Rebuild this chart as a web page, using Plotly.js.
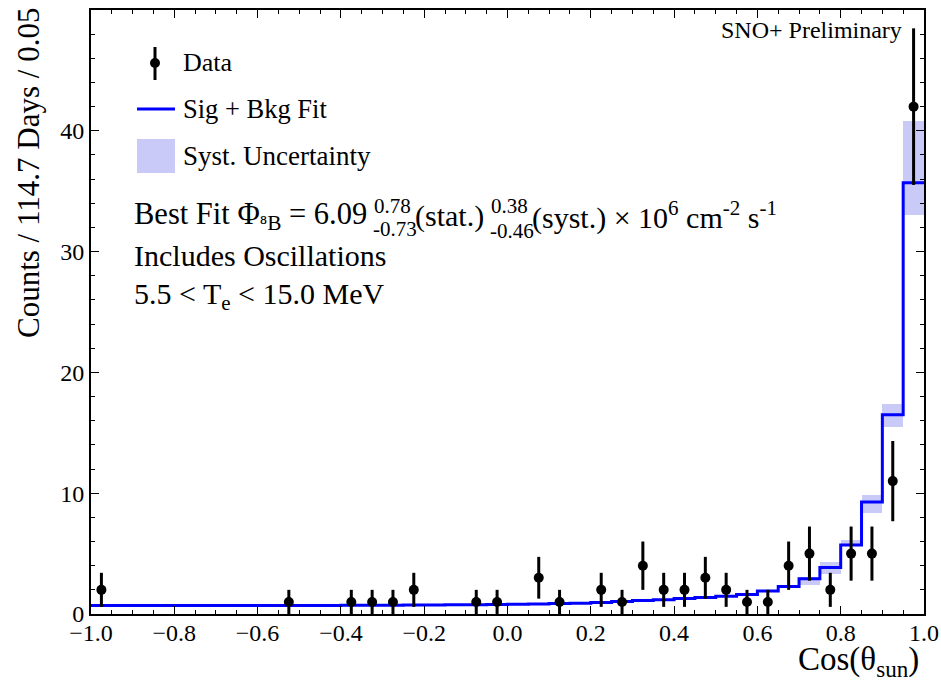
<!DOCTYPE html>
<html>
<head>
<meta charset="utf-8">
<script src="https://cdn.plot.ly/plotly-3.0.1.min.js"></script>
<style>html,body{margin:0;padding:0;background:#fff;}#chart{width:941px;height:683px;}</style>
</head>
<body>
<div id="chart"></div>
<script>
// ---- data ----
// data points (non-empty bins only): bin centres, counts, errors
const dataX = [-0.975, -0.525, -0.375, -0.325, -0.275, -0.225, -0.075, -0.025, 0.075, 0.125,
               0.225, 0.275, 0.325, 0.375, 0.425, 0.475, 0.525, 0.575, 0.625, 0.675,
               0.725, 0.775, 0.825, 0.875, 0.925, 0.975];
const dataY = [2, 1, 1, 1, 1, 2, 1, 1, 3, 1,
               2, 1, 4, 2, 2, 3, 2, 1, 1, 4,
               5, 2, 5, 5, 11, 42];
const dataErr = [1.41, 1, 1, 1, 1, 1.41, 1, 1, 1.73, 1,
                 1.41, 1, 2, 1.41, 1.41, 1.73, 1.41, 1, 1, 2,
                 2.24, 1.41, 2.24, 2.24, 3.32, 6.48];

// fit histogram: bin lower edges, fitted value, syst band lo/hi
const binLo = [-1.00,-0.95,-0.90,-0.85,-0.80,-0.75,-0.70,-0.65,-0.60,-0.55,
               -0.50,-0.45,-0.40,-0.35,-0.30,-0.25,-0.20,-0.15,-0.10,-0.05,
                0.00, 0.05, 0.10, 0.15, 0.20, 0.25, 0.30, 0.35, 0.40, 0.45,
                0.50, 0.55, 0.60, 0.65, 0.70, 0.75, 0.80, 0.85, 0.90, 0.95];
const fitVal = [0.70,0.70,0.70,0.70,0.70,0.70,0.70,0.70,0.70,0.70,
                0.71,0.71,0.72,0.72,0.73,0.74,0.75,0.76,0.77,0.78,
                0.80,0.83,0.87,0.90,0.95,1.03,1.12,1.18,1.28,1.36,
                1.47,1.62,1.90,2.27,2.92,3.85,5.72,9.28,16.5,35.7];
const sysLo = [0.67,0.67,0.67,0.67,0.67,0.67,0.67,0.67,0.67,0.67,
               0.68,0.68,0.69,0.69,0.70,0.71,0.72,0.73,0.74,0.75,
               0.77,0.80,0.84,0.87,0.92,0.99,1.08,1.14,1.23,1.30,
               1.42,1.56,1.84,2.15,2.42,3.33,5.60,8.35,15.5,33.06];
const sysHi = [0.73,0.73,0.73,0.73,0.73,0.73,0.73,0.73,0.73,0.73,
               0.74,0.74,0.75,0.75,0.76,0.77,0.78,0.79,0.80,0.81,
               0.83,0.86,0.90,0.93,0.98,1.07,1.16,1.22,1.33,1.42,
               1.53,1.68,2.00,2.38,3.06,4.30,6.14,9.86,17.38,40.85];
const binWidth = 0.05;
const xMax = 1.0;

// ---- derived trace inputs ----
const binCentre = binLo.map(v => v + binWidth / 2);
const bandSize = sysHi.map((h, i) => h - sysLo[i]);
const stepX = binLo.concat([xMax]);
const stepY = fitVal.concat([fitVal[fitVal.length - 1]]);

const FONT = 'Liberation Serif, Times New Roman, serif';
const BLUE = '#0000ff';
const BAND = 'rgb(202,202,248)';

const traces = [
  {type: 'bar', x: binCentre, y: bandSize, base: sysLo, width: binWidth,
   marker: {color: BAND, line: {width: 0}}, hoverinfo: 'skip', showlegend: false},
  {type: 'scatter', mode: 'lines', x: stepX, y: stepY,
   line: {color: BLUE, width: 3, shape: 'hv'}, showlegend: false, cliponaxis: true},
  {type: 'scatter', mode: 'markers', x: dataX, y: dataY,
   marker: {color: 'black', size: 10},
   error_y: {type: 'data', array: dataErr, visible: true, color: 'black', thickness: 3, width: 0},
   showlegend: false}
];

// pixel -> paper helpers for the annotation layout
const L = 91, R = 924, T = 10, B = 614;
const px = x => (x - L) / (R - L);
const py = y => (B - y) / (B - T);

function txt(text, x, y, size, xanchor, extra) {
  return Object.assign({text: text, xref: 'paper', yref: 'paper', x: px(x), y: py(y),
    xanchor: xanchor || 'left', yanchor: 'middle', showarrow: false,
    font: {family: FONT, size: size, color: 'black'}}, extra || {});
}

const annotations = [
  txt('SNO+ Preliminary', 904, 30, 24, 'right'),
  txt('Data', 181, 63, 26),
  txt('Sig + Bkg Fit', 181, 109, 26.5),
  txt('Syst. Uncertainty', 181, 156, 27),
  txt('Best Fit Φ<sub>⁸B</sub> = 6.09', 132, 216, 30.5),
  txt('0.78', 372, 206, 21),
  txt('-0.73', 371, 229, 21),
  txt('(stat.)', 413, 216, 30),
  txt('0.38', 489, 206, 21),
  txt('-0.46', 488, 231, 21),
  txt('(syst.) × 10<sup>6</sup> cm<sup>-2</sup> s<sup>-1</sup>', 530, 216, 30),
  txt('Includes Oscillations', 132, 256, 30),
  txt('5.5 &lt; T<sub>e</sub> &lt; 15.0 MeV', 132, 296, 30),
  txt('Cos(θ<sub>sun</sub>)', 921, 661, 33, 'right'),
  Object.assign(txt('Counts / 114.7 Days / 0.05', 29, 6, 31, 'center'), {textangle: -90, yanchor: 'top'})
];

const shapes = [
  // legend: data symbol
  {type: 'line', xref: 'paper', yref: 'paper', x0: px(155), x1: px(155), y0: py(47), y1: py(80),
   line: {color: 'black', width: 3}},
  {type: 'circle', xref: 'paper', yref: 'paper', x0: px(150), x1: px(160), y0: py(58), y1: py(68),
   fillcolor: 'black', line: {color: 'black', width: 0}},
  // legend: fit line
  {type: 'line', xref: 'paper', yref: 'paper', x0: px(137), x1: px(175), y0: py(109), y1: py(109),
   line: {color: BLUE, width: 3}},
  // legend: syst box
  {type: 'rect', xref: 'paper', yref: 'paper', x0: px(137), x1: px(175), y0: py(139), y1: py(173),
   fillcolor: BAND, line: {width: 0}}
];

const axisCommon = {
  showgrid: false, zeroline: false, showline: true, linecolor: 'black', linewidth: 2,
  mirror: 'allticks', ticks: 'inside', ticklen: 8, tickwidth: 1, tickcolor: 'black',
  tickfont: {family: FONT, size: 24, color: 'black'}
};

const layout = {
  width: 941, height: 683,
  margin: {l: 91, r: 17, t: 10, b: 69},
  paper_bgcolor: 'white', plot_bgcolor: 'white',
  showlegend: false, bargap: 0, barmode: 'overlay',
  xaxis: Object.assign({}, axisCommon, {
    range: [-1, 1], tick0: -1, dtick: 0.2, tickformat: '.1f', ticklabelstandoff: -4,
    minor: {dtick: 0.05, ticklen: 4, ticks: 'inside', tickcolor: 'black', tickwidth: 1}
  }),
  yaxis: Object.assign({}, axisCommon, {
    range: [0, 50], tick0: 0, dtick: 10,
    minor: {dtick: 2, ticklen: 4, ticks: 'inside', tickcolor: 'black', tickwidth: 1}
  }),
  annotations: annotations,
  shapes: shapes
};

Plotly.newPlot('chart', traces, layout, {staticPlot: true, displayModeBar: false});
</script>
</body>
</html>
